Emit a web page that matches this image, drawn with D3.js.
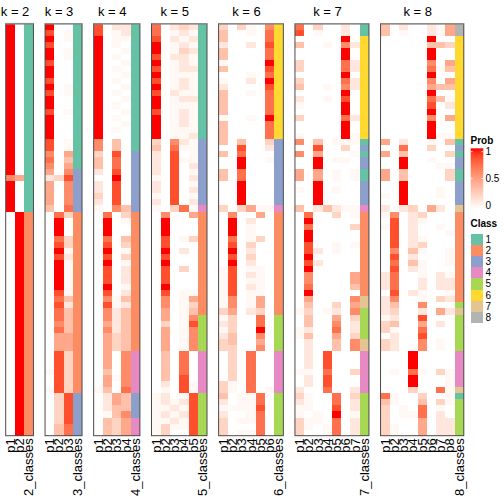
<!DOCTYPE html>
<html><head><meta charset="utf-8">
<script src="https://cdn.jsdelivr.net/npm/d3@7"></script>
<style>body{margin:0;background:#fff}svg{display:block}</style>
</head><body><svg id="c" width="504" height="504"></svg>
<script>
// ---- data ----
const kValues = [2, 3, 4, 5, 6, 7, 8];
const classLevels = ["1", "2", "3", "4", "5", "6", "7", "8"];
const classColors = ["#66C2A5", "#FC8D62", "#8DA0CB", "#E78AC3", "#A6D854", "#FFD92F", "#E5C494", "#B3B3B3"];
// membership probability code table: one character per cell
const probCodes = ["0","1","2","3","4","5","6","7","8","9"];
const probCodeValues = [0, 0.04, 0.13, 0.23, 0.33, 0.46, 0.6, 0.72, 0.85, 1.0];
const probLegendBreaks = [0, 0.5, 1];
const probLegendLabels = ["0", "0.5", "1"];

const k2_prob = [
  "9999999999 9999999999 9999969999 9000000000 0000000000 0000000000 00000000",
  "0000000000 0000000000 0000050000 0999999999 9999999999 9999999999 99999999"];
const k2_class = "1111111111 1111111111 1111111111 1222222222 2222222222 2222222222 22222222";

const k3_prob = [
  "9898998998 9899899998 8676525555 4000000000 0000000000 0000000100 10000000",
  "0000000000 0000000000 0000030000 0799978989 9999878776 7555888888 83333344",
  "0110110000 1100100001 1545686666 7300033121 1111142444 4555333333 38888877"];
const k3_class = "1111111111 1111111111 1111333333 3222222222 2222222222 2222222222 23333333";

const k4_prob = [
  "8899999999 9999999996 6344202232 1000000000 0000000000 0000000000 10000000",
  "0000000000 0000000000 0000000000 0799978989 8889868665 6555555455 42221444",
  "2111010101 0101010104 4877898888 6000000000 0000011222 2333000010 05544333",
  "2210101010 1010101000 0000000000 4310043131 2221242444 4444666666 74446555"];
const k4_class = "1111111111 1111111111 1333333333 3222222222 2222222222 2222444444 43333444";

const k5_prob = [
  "7789989898 9899899993 4222212212 1000000000 0000000000 0000000000 01111111",
  "0000000000 0000000000 0000000000 0699988989 8889866553 5555444442 12212133",
  "2121121111 1211111116 7888888888 3000000000 0000000000 0000000000 00121210",
  "3212322212 2121222112 1010000000 7000010200 3000111111 1111777788 81212110",
  "2121211211 1121111121 1112121212 1500030000 0000153468 6666000001 18888888"];
const k5_class = "1111111111 1111111113 3333333333 4222222222 2222222255 5555444444 45555555";

const k6_prob = [
  "3442441401 2444414444 0400440000 3000000000 1111111312 1233000003 34212333",
  "0000000000 0000000000 0000000000 0699978989 8888866533 3443333331 10010000",
  "3000000000 0000000004 8799779999 3000000000 0000000000 0000000000 01110101",
  "1102000012 0100010000 0000000000 5021113232 1212111200 0000777777 71111101",
  "0000000000 0000000000 0000000000 1500030000 1111155377 9656000000 07787777",
  "6778779879 8777797773 2010000000 1000000000 0000000000 0000000000 10000000"];
const k6_class = "6666666666 6666666663 3333333333 4222222222 2222222255 5555444444 45555555";

const k7_prob = [
  "7804003303 4021030016 0600550100 4000000000 0000000100 1100000100 23211333",
  "0000000000 0000000000 0000000000 0797998898 9667954344 2422222122 01110110",
  "3100000000 0000000004 8599559999 2000000202 0000000000 0000000000 00001100",
  "0001000000 1010000000 0000000000 4000000000 0000000100 0000888788 70000011",
  "0000000000 0000000001 0010110100 2300001100 0000003256 7544000000 07789777",
  "2296997797 6989979991 3010000000 1000000000 0000000000 0000000000 00000000",
  "0002002202 2000020011 0100110000 1103001000 0554065632 2366000300 23221222"];
const k7_class = "1166666666 6666666661 3133113333 4222222222 2222277555 5577444444 45555555";

const k8_prob = [
  "4400000000 0000000005 0500550010 2101000000 0222022213 3033000000 07433333",
  "0000000000 0000000000 0000000000 0688888687 8777864324 1222000100 01100011",
  "2100000000 0000000002 7499449999 2000000000 0000000000 0000000000 00011000",
  "0000000000 0000000000 0000000000 3222222424 2000200000 0000999799 30001000",
  "0000000000 0000000000 0000000000 0310013101 1122116285 7866000100 03477555",
  "2294996796 5978969991 3010000000 5000000000 0000000000 0000000000 00000000",
  "1104000100 4040000010 0001000110 2001000000 0222030502 0011000300 70312222",
  "5503005405 4012050014 0301330000 0000100111 0122120200 0000000111 11100222"];
const k8_class = "8866666666 6666666661 3133113333 7222222222 2222225755 5555444444 71555555";

// ---- build ----
const probSets = [k2_prob, k3_prob, k4_prob, k5_prob, k6_prob, k7_prob, k8_prob];
const classSets = [k2_class, k3_class, k4_class, k5_class, k6_class, k7_class, k8_class];
const clean = s => s.replace(/ /g, "");
const decode = d3.scaleOrdinal().domain(probCodes).range(probCodeValues);

const nRows = clean(k2_class).length;
const svg = d3.select("#c");
const font = "'Liberation Sans', Arial, Helvetica, sans-serif";

const y = d3.scaleBand().domain(d3.range(nRows)).range([23.7, 435.7]);
const probColor = d3.scaleLinear().domain([0, 1]).range(["#ffffff", "#ff0000"]).interpolate(d3.interpolateLab);
const classColor = d3.scaleOrdinal().domain(classLevels).range(classColors);

const colW = 9.25, gap = 11.6, x0 = 5.7;
let cursor = x0;

kValues.forEach((k, i) => {
  const probs = probSets[i].map(clean);
  const cls = clean(classSets[i]);
  const cols = d3.range(1, k + 1).map(j => "p" + j).concat([k + "_classes"]);
  const width = cols.length * colW;
  const xb = d3.scaleBand().domain(cols).range([cursor, cursor + width]);
  cursor += width + gap;

  const g = svg.append("g");
  const cells = [];
  probs.forEach((col, ci) => {
    for (let r = 0; r < nRows; r++) cells.push({col: cols[ci], row: r, fill: probColor(decode(col[r]))});
  });
  for (let r = 0; r < nRows; r++) cells.push({col: cols[k], row: r, fill: classColor(cls[r])});

  g.selectAll("rect.cell").data(cells).join("rect")
    .attr("class", "cell")
    .attr("shape-rendering", "crispEdges")
    .attr("x", d => xb(d.col))
    .attr("y", d => y(d.row))
    .attr("width", xb.bandwidth())
    .attr("height", y.bandwidth())
    .attr("fill", d => d.fill);

  const [rx0, rx1] = xb.range();
  const [ry0, ry1] = y.range();
  g.append("rect").attr("x", rx0).attr("y", ry0).attr("width", rx1 - rx0).attr("height", ry1 - ry0)
    .attr("fill", "none").attr("stroke", "#4a4a4a").attr("stroke-width", 1);
  g.append("line").attr("x1", rx0).attr("x2", rx1).attr("y1", ry0).attr("y2", ry0)
    .attr("stroke", "#8c8c8c").attr("stroke-width", 1.6);

  g.append("text").attr("x", (rx0 + rx1) / 2 - 4.5).attr("y", 15.5)
    .attr("text-anchor", "middle").attr("font-family", font).attr("font-size", 13)
    .text("k = " + k);

  g.selectAll("text.lab").data(cols).join("text").attr("class", "lab")
    .attr("transform", d => `translate(${xb(d) + xb.bandwidth() / 2},${ry1 + 2.5}) rotate(-90)`)
    .attr("text-anchor", "end").attr("dy", "0.35em")
    .attr("font-family", font).attr("font-size", 13)
    .text(d => d);
});

// ---- legends ----
const lg = svg.append("g").attr("font-family", font);
lg.append("text").attr("x", 470.5).attr("y", 143.5).attr("font-size", 10).attr("font-weight", "bold").text("Prob");
const defs = svg.append("defs");
const grad = defs.append("linearGradient").attr("id", "pg").attr("x1", 0).attr("x2", 0).attr("y1", 1).attr("y2", 0);
d3.range(0, 1.0001, 0.1).forEach(t => grad.append("stop").attr("offset", t).attr("stop-color", probColor(t)));
const ly = d3.scaleLinear().domain([0, 1]).range([205.5, 151.7]);
lg.append("rect").attr("x", 470.7).attr("y", 148.3).attr("width", 12.6).attr("height", 208.9 - 148.3).attr("fill", "url(#pg)");
probLegendBreaks.forEach((b, i) => {
  lg.append("line").attr("x1", 470.7).attr("x2", 472.7).attr("y1", ly(b)).attr("y2", ly(b)).attr("stroke", "#fff").attr("stroke-width", 0.8);
  lg.append("line").attr("x1", 481.3).attr("x2", 483.3).attr("y1", ly(b)).attr("y2", ly(b)).attr("stroke", "#fff").attr("stroke-width", 0.8);
  lg.append("text").attr("x", 485.5).attr("y", ly(b)).attr("dy", "0.35em").attr("font-size", 10).text(probLegendLabels[i]);
});

lg.append("text").attr("x", 470.5).attr("y", 226.5).attr("font-size", 10).attr("font-weight", "bold").text("Class");
const cy = d3.scaleBand().domain(classLevels).range([233.5, 233.5 + 11.2 * classLevels.length]);
lg.selectAll("rect.cl").data(classLevels).join("rect").attr("class", "cl")
  .attr("shape-rendering", "crispEdges")
  .attr("x", 470.7).attr("y", d => cy(d)).attr("width", 12).attr("height", cy.bandwidth())
  .attr("fill", d => classColor(d));
lg.selectAll("text.cl").data(classLevels).join("text").attr("class", "cl")
  .attr("x", 485.5).attr("y", d => cy(d) + cy.bandwidth() / 2).attr("dy", "0.35em")
  .attr("font-size", 10).text(d => d);
</script>
</body></html>
